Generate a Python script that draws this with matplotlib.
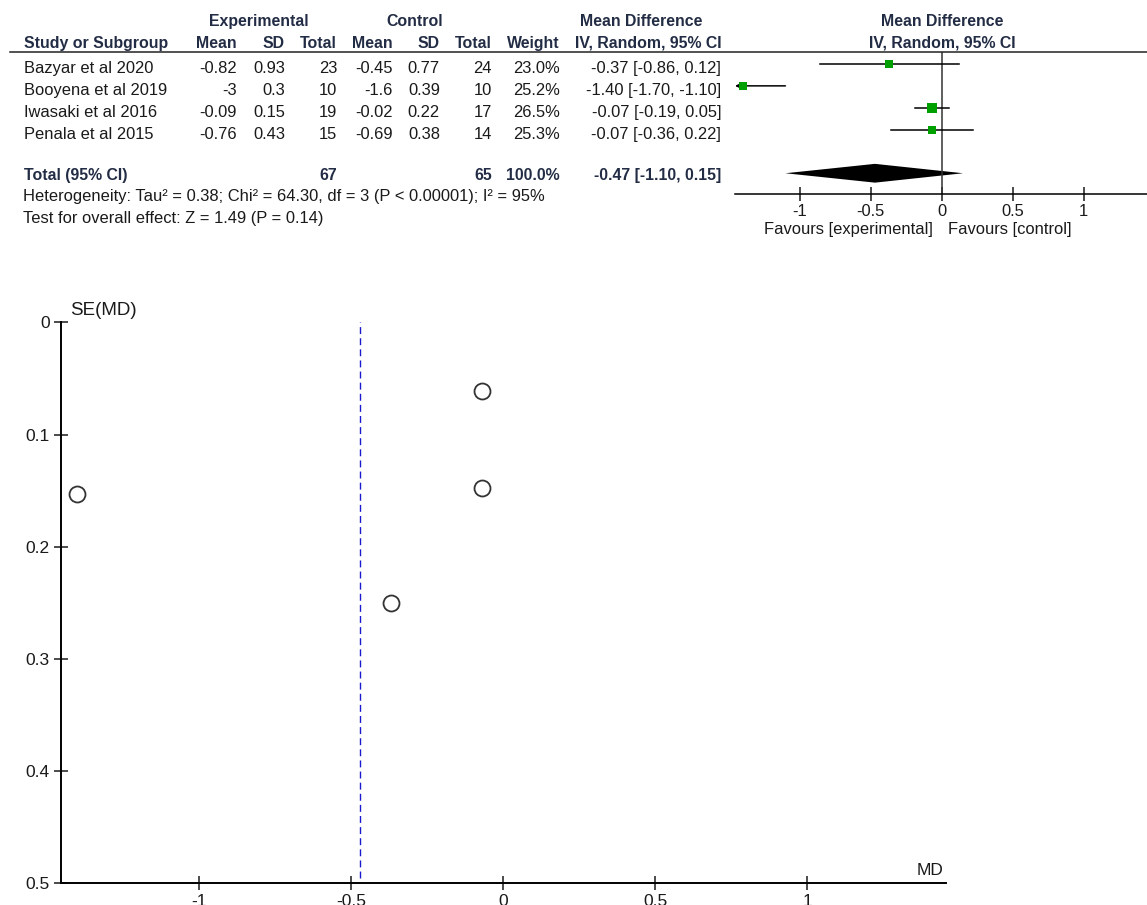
import matplotlib
matplotlib.use('Agg')
from matplotlib import pyplot as plt
from matplotlib.lines import Line2D
from matplotlib.ticker import FuncFormatter

plt.rcParams['font.family'] = ['Liberation Sans', 'DejaVu Sans']
plt.rcParams['axes.unicode_minus'] = False

# data
studies = ['Bazyar et al 2020', 'Booyena et al 2019', 'Iwasaki et al 2016', 'Penala et al 2015']
exp_mean = [-0.82, -3, -0.09, -0.76]
exp_sd = [0.93, 0.3, 0.15, 0.43]
exp_n = [23, 10, 19, 15]
ctl_mean = [-0.45, -1.6, -0.02, -0.69]
ctl_sd = [0.77, 0.39, 0.22, 0.38]
ctl_n = [24, 10, 17, 14]
weight = [23.0, 25.2, 26.5, 25.3]
md = [-0.37, -1.40, -0.07, -0.07]
ci_low = [-0.86, -1.70, -0.19, -0.36]
ci_high = [0.12, -1.10, 0.05, 0.22]
se_md = [0.25, 0.153, 0.061, 0.148]

total_exp = 67
total_ctl = 65
total_weight = 100.0
pooled_md = -0.47
pooled_low = -1.10
pooled_high = 0.15
hetero_text = 'Heterogeneity: Tau² = 0.38; Chi² = 64.30, df = 3 (P < 0.00001); I² = 95%'
effect_text = 'Test for overall effect: Z = 1.49 (P = 0.14)'

W, H = 1147, 905
HEAD = '#222c44'
TXT = '#1a1a1a'
FS = 11.9    # regular table text
FSB = 11.4   # bold table text

fig = plt.figure(figsize=(W / 100, H / 100), dpi=100)


def put(x, y, s, ha='left', bold=False, color=TXT, size=None):
    if size is None:
        size = FSB if bold else FS
    fig.text(x / W, 1 - y / H, s, ha=ha, va='baseline', fontsize=size,
             fontweight='bold' if bold else 'normal', color=color)


def fmt(v):
    return '{:g}'.format(v)


# ---- table header
put(259, 26, 'Experimental', ha='center', bold=True, color=HEAD)
put(415, 26, 'Control', ha='center', bold=True, color=HEAD)
put(641, 26, 'Mean Difference', ha='center', bold=True, color=HEAD)
put(942, 26, 'Mean Difference', ha='center', bold=True, color=HEAD)
put(24, 48, 'Study or Subgroup', bold=True, color=HEAD)
cols = [237, 285, 337, 393, 440, 492, 560]
for x, lab in zip(cols, ['Mean', 'SD', 'Total', 'Mean', 'SD', 'Total', 'Weight']):
    put(x, 48, lab, ha='right', bold=True, color=HEAD)
put(648, 48, 'IV, Random, 95% CI', ha='center', bold=True, color=HEAD)
put(942, 48, 'IV, Random, 95% CI', ha='center', bold=True, color=HEAD)
fig.add_artist(Line2D([10 / W, 1], [1 - 52 / H, 1 - 52 / H], color='#222222', lw=1.1))

# ---- study rows
for i, name in enumerate(studies):
    y = 73 + 22 * i
    put(24, y, name)
    vals = [fmt(exp_mean[i]), fmt(exp_sd[i]), str(exp_n[i]), fmt(ctl_mean[i]),
            fmt(ctl_sd[i]), str(ctl_n[i]), '{:.1f}%'.format(weight[i])]
    for x, s in zip(cols, vals):
        put(x, y, s, ha='right')
    put(721, y, '{:.2f} [{:.2f}, {:.2f}]'.format(md[i], ci_low[i], ci_high[i]), ha='right')

put(24, 180, 'Total (95% CI)', bold=True, color=HEAD)
put(337, 180, str(total_exp), ha='right', bold=True, color=HEAD)
put(492, 180, str(total_ctl), ha='right', bold=True, color=HEAD)
put(560, 180, '{:.1f}%'.format(total_weight), ha='right', bold=True, color=HEAD)
put(721, 180, '{:.2f} [{:.2f}, {:.2f}]'.format(pooled_md, pooled_low, pooled_high),
    ha='right', bold=True, color=HEAD)
put(23, 201, hetero_text)
put(23, 223, effect_text)

# ---- forest plot
xlo, xhi = -1.455, 1.445
axf = fig.add_axes([735 / W, 1 - 194 / H, (W - 735) / W, 142 / H])
axf.set_xlim(xlo, xhi)
axf.set_ylim(5.95, -0.55)
for s in ['top', 'left', 'right']:
    axf.spines[s].set_visible(False)
axf.spines['bottom'].set_linewidth(1.1)
axf.set_yticks([])
axf.set_xticks([-1, -0.5, 0, 0.5, 1])
axf.xaxis.set_major_formatter(FuncFormatter(lambda v, p: fmt(v)))
axf.tick_params(axis='x', direction='inout', length=10, width=1.1, pad=2,
                labelsize=FS, colors=TXT)
axf.patch.set_alpha(0)
axf.axvline(0, color='#333333', lw=1.1)

wmax = max(weight)
for i in range(len(studies)):
    lo = max(ci_low[i], xlo)
    if ci_low[i] < xlo:
        axf.annotate('', xy=(xlo, i), xytext=(ci_high[i], i),
                     arrowprops=dict(arrowstyle='-|>', lw=1.1, color='black',
                                     mutation_scale=9, shrinkA=0, shrinkB=0))
    else:
        axf.plot([lo, ci_high[i]], [i, i], color='black', lw=1.1)
    side = 10 * (weight[i] / wmax) ** 2.5
    axf.plot(md[i], i, 's', color='#00a000', ms=side * 0.72, mew=0, zorder=5)

h = 0.43
axf.fill([pooled_low, pooled_md, pooled_high, pooled_md], [5, 5 - h, 5, 5 + h],
         color='black', lw=0)
put(933, 234, 'Favours [experimental]', ha='right')
put(948, 234, 'Favours [control]')

# ---- funnel plot
axp = fig.add_axes([60.7 / W, 1 - 883.3 / H, (945.7 - 60.7) / W, (883.3 - 322.5) / H])
axp.set_xlim(-1.455, 1.455)
axp.set_ylim(0.5, 0)
for s in ['top', 'right']:
    axp.spines[s].set_visible(False)
for s in ['left', 'bottom']:
    axp.spines[s].set_linewidth(1.4)
axp.set_xticks([-1, -0.5, 0, 0.5, 1])
axp.set_yticks([0, 0.1, 0.2, 0.3, 0.4, 0.5])
fm = FuncFormatter(lambda v, p: fmt(round(v, 2)))
axp.xaxis.set_major_formatter(fm)
axp.yaxis.set_major_formatter(fm)
axp.tick_params(direction='inout', length=10, width=1.1, pad=3, labelsize=12.5, colors=TXT)
axp.patch.set_alpha(0)

axp.axvline(pooled_md, ymin=0.01, ymax=1, color='#1a1acc', lw=1.0, dashes=(5, 3))
axp.plot(md, se_md, 'o', mfc='none', mec='#333333', ms=11.5, mew=1.3, clip_on=False)

put(70, 315, 'SE(MD)', size=13.5)
put(943, 875, 'MD', size=12.5, ha='right')

plt.savefig('out.png', dpi=100)
